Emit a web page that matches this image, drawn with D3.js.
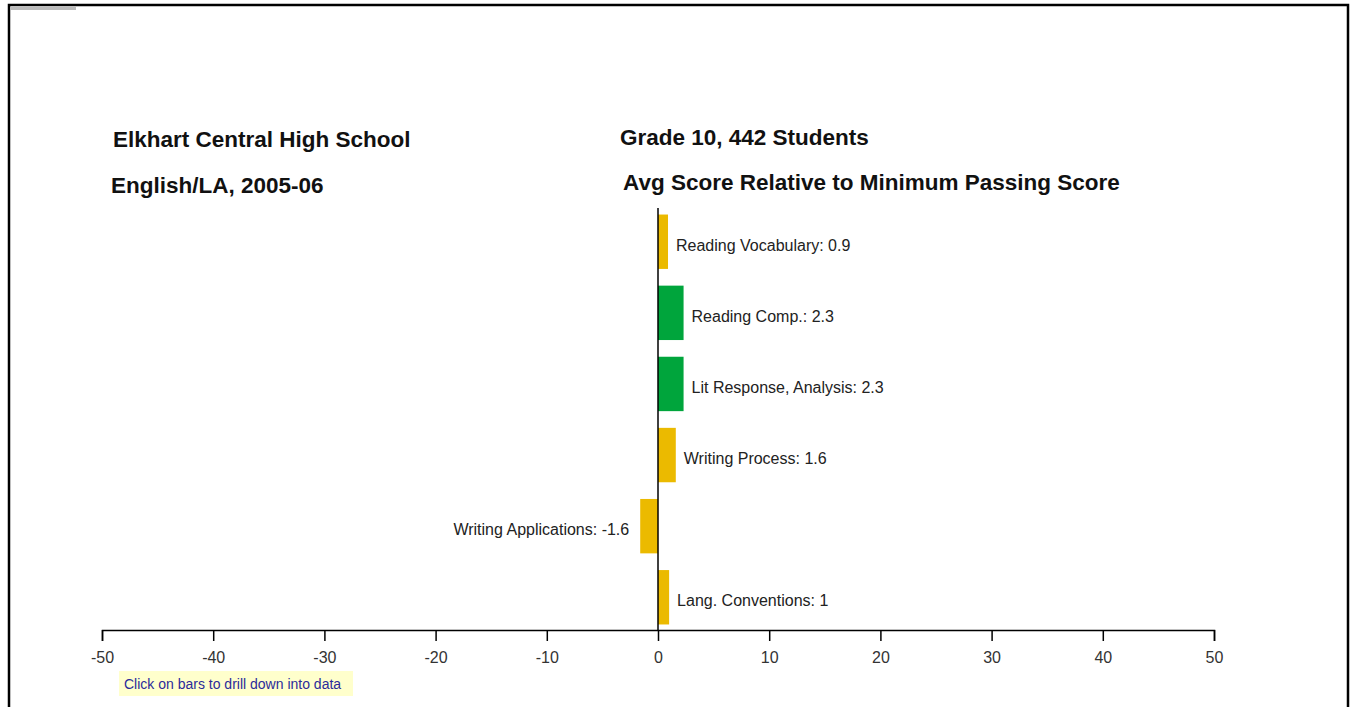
<!DOCTYPE html>
<html lang="en">
<head>
<meta charset="UTF-8">
<title>Avg Score Relative to Minimum Passing Score</title>
<style>
  body { margin: 0; background: #fff; }
  svg { display: block; font-family: "Liberation Sans", Arial, sans-serif; }
</style>
</head>
<body>
<script src="https://d3js.org/d3.v7.min.js"></script>
<script>
// data
var categories = ['Reading Vocabulary', 'Reading Comp.', 'Lit Response, Analysis',
                  'Writing Process', 'Writing Applications', 'Lang. Conventions'];
var scores = [0.9, 2.3, 2.3, 1.6, -1.6, 1];
var levels = ['mid', 'high', 'high', 'mid', 'mid', 'mid'];
var xTicks = [-50, -40, -30, -20, -10, 0, 10, 20, 30, 40, 50];

var data = categories.map((c, i) => ({ name: c, value: scores[i], level: levels[i] }));

var W = 1356, H = 707;
var svg = d3.select('body').append('svg')
    .attr('width', W)
    .attr('height', H);

// frame of the page
svg.append('path')
    .attr('d', `M9,${H} V5 H1348 V${H}`)
    .attr('fill', 'none')
    .attr('stroke', '#000')
    .attr('stroke-width', 2.5);
svg.append('rect')
    .attr('x', 10).attr('y', 7).attr('width', 66).attr('height', 3)
    .attr('fill', '#bbb');

var xScale = d3.scaleLinear().domain([-50, 50]).range([102, 1214]);
var yScale = d3.scaleBand().domain(categories).range([206, 633]).paddingInner(0.235).paddingOuter(0.12);

var color = d3.scaleOrdinal().domain(['mid', 'high']).range(['#ebba00', '#00a53c']);

// titles
var titles = [
    { t: 'Elkhart Central High School', x: 113, y: 147 },
    { t: 'English/LA, 2005-06', x: 111, y: 193 },
    { t: 'Grade 10, 442 Students', x: 620, y: 145 },
    { t: 'Avg Score Relative to Minimum Passing Score', x: 623, y: 190 }
];
svg.selectAll('.title')
    .data(titles)
    .enter().append('text')
    .attr('class', 'title')
    .attr('x', d => d.x)
    .attr('y', d => d.y)
    .style('font-size', '22.5px')
    .style('font-weight', 'bold')
    .style('fill', '#111')
    .text(d => d.t);

// bars
var bar = svg.selectAll('.bar')
    .data(data)
    .enter().append('g')
    .attr('class', 'bar');

bar.append('rect')
    .attr('x', d => xScale(Math.min(0, d.value)))
    .attr('y', d => yScale(d.name))
    .attr('width', d => Math.abs(xScale(d.value) - xScale(0)))
    .attr('height', yScale.bandwidth())
    .style('fill', d => color(d.level));

bar.append('text')
    .attr('x', d => d.value >= 0 ? xScale(d.value) + 8 : xScale(d.value) - 11)
    .attr('y', d => yScale(d.name) + yScale.bandwidth() / 2 + 9)
    .attr('text-anchor', d => d.value >= 0 ? 'start' : 'end')
    .style('font-size', '16px')
    .style('fill', '#222')
    .text(d => d.name + ': ' + d.value);

// zero line
svg.append('line')
    .attr('x1', xScale(0)).attr('x2', xScale(0))
    .attr('y1', 208).attr('y2', 630)
    .attr('stroke', '#000')
    .attr('stroke-width', 1.5);

// x axis
var xAxis = svg.append('g')
    .attr('transform', 'translate(0,630)')
    .call(d3.axisBottom(xScale).tickValues(xTicks).tickFormat(d => String(d))
        .tickSize(11).tickPadding(11).tickSizeOuter(11));
xAxis.select('.domain').attr('stroke', '#000').attr('stroke-width', 1.5);
xAxis.selectAll('.tick line').attr('stroke', '#000').attr('stroke-width', 1.5);
xAxis.selectAll('.tick text')
    .style('font-size', '16px')
    .style('font-family', '"Liberation Sans", Arial, sans-serif')
    .style('fill', '#333');

// hint box
var hint = svg.append('g').attr('transform', 'translate(119,671)');
hint.append('rect')
    .attr('width', 234).attr('height', 25)
    .attr('fill', '#ffffcc');
hint.append('text')
    .attr('x', 5).attr('y', 18)
    .style('font-size', '14px')
    .style('fill', '#2b2b9a')
    .text('Click on bars to drill down into data');
</script>
</body>
</html>
